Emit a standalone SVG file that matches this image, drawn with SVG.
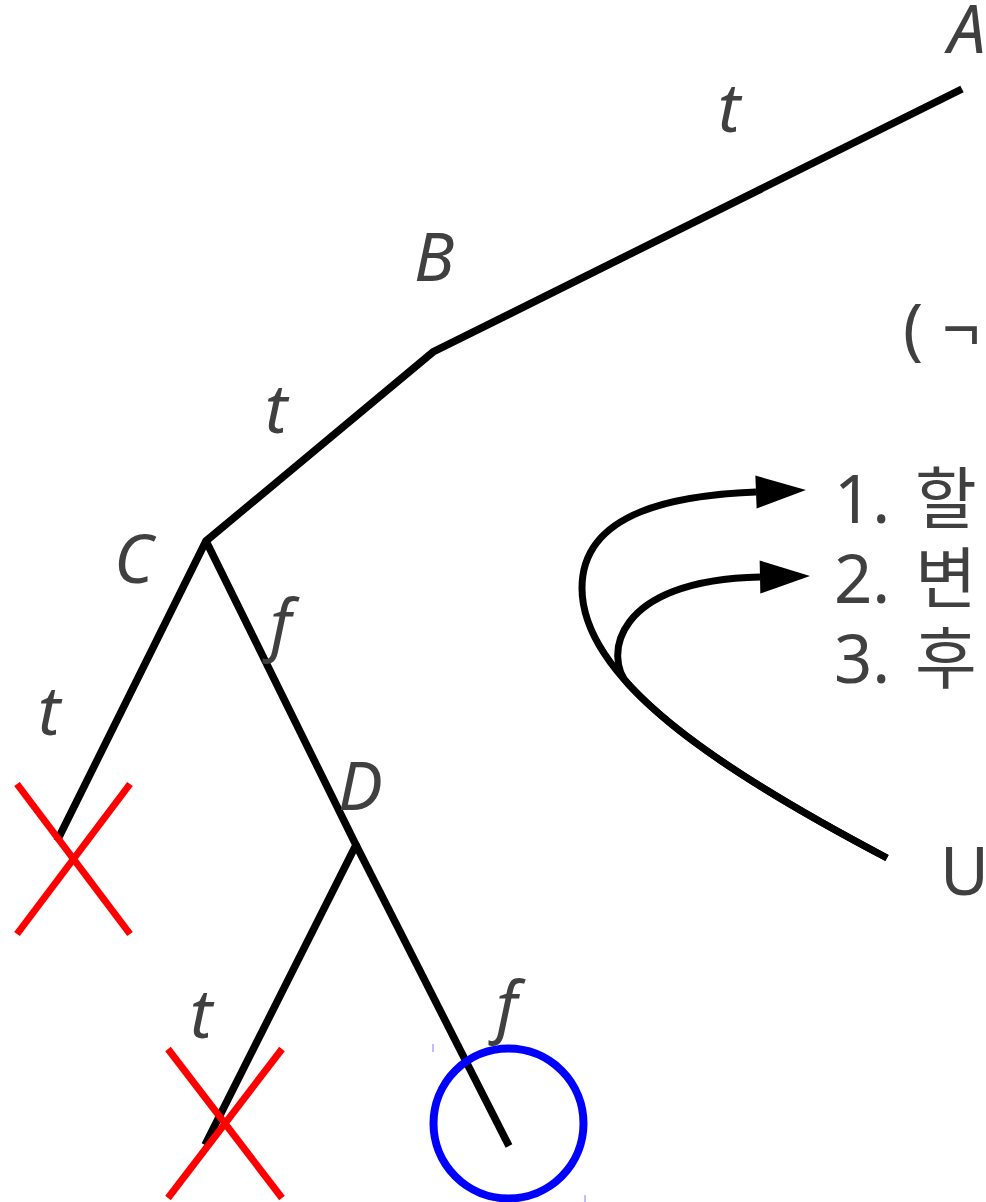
<svg xmlns="http://www.w3.org/2000/svg" width="986" height="1202" viewBox="0 0 986 1202">
<style>
.edge{fill:none;stroke:#000;stroke-width:7.5;stroke-linecap:butt;stroke-linejoin:miter}
.curve{fill:none;stroke:#000;stroke-width:7}
.lbl{font-family:"Noto Sans","Open Sans","Noto Sans CJK KR",sans-serif;font-style:italic;font-size:67px;fill:#404040}
.txt{font-family:"Noto Sans","Open Sans","Noto Sans CJK KR",sans-serif;font-size:67px;fill:#404040}
.cross{stroke:#ff0000;stroke-width:7;fill:none}
.mark{fill:none;stroke:#0000ff;stroke-width:8}
</style>
<defs>
<marker id="arr" markerUnits="userSpaceOnUse" markerWidth="52" markerHeight="34" refX="0" refY="16.5" orient="auto" overflow="visible">
<path d="M0,0 L50,16.5 L0,33 z" fill="#000"/>
</marker>
</defs>
<rect width="986" height="1202" fill="#fff"/>
<g id="connectors">
<polyline class="edge" points="962,89 433,352 206,541 57,841"/>
<polyline class="edge" points="206,541 356,845 205,1145"/>
<line class="edge" x1="356" y1="845" x2="509" y2="1146"/>
<path class="curve" d="M887,858 C720,770 582,680 582,588 C582,510 680,495 756,492" marker-end="url(#arr)"/>
<path class="curve" d="M887,858 C778.45,800.8 682.35,742.8 628.1,684 C604,658 612,580 760,577" marker-end="url(#arr)"/>
</g>
<g id="node-A"><text class="lbl" x="948" y="53">A</text></g>
<g id="label-t1"><text class="lbl" x="718" y="132">t</text></g>
<g id="node-B"><text class="lbl" x="414" y="281">B</text></g>
<g id="label-t2"><text class="lbl" x="265" y="433">t</text></g>
<g id="node-C"><text class="lbl" x="114" y="583">C</text></g>
<g id="label-f1"><text class="lbl" x="270" y="648">f</text></g>
<g id="label-t3"><text class="lbl" x="38" y="735">t</text></g>
<g id="node-D"><text class="lbl" x="338" y="810">D</text></g>
<g id="label-t4"><text class="lbl" x="190" y="1038">t</text></g>
<g id="label-f2"><text class="lbl" x="496" y="1030">f</text></g>
<g id="cross-1">
<line class="cross" x1="17" y1="784" x2="130" y2="934"/>
<line class="cross" x1="130" y1="784" x2="17" y2="934"/>
</g>
<g id="cross-2">
<line class="cross" x1="168" y1="1049" x2="282" y2="1198"/>
<line class="cross" x1="282" y1="1049" x2="168" y2="1198"/>
</g>
<g id="goal">
<circle class="mark" cx="508.5" cy="1123.5" r="75"/>
<line x1="433" y1="1044" x2="433" y2="1052" stroke="#7f7fff" stroke-width="1"/>
<line x1="585" y1="1195" x2="585" y2="1202" stroke="#7f7fff" stroke-width="1"/>
</g>
<g id="note">
<text class="txt" x="903" y="352">(<tspan x="942">¬</tspan></text>
<text class="txt" x="834" y="523">1.<tspan x="915">할</tspan></text>
<text class="txt" x="834" y="603">2.<tspan x="915">변</tspan></text>
<text class="txt" x="834" y="683">3.<tspan x="915">후</tspan></text>
<text class="txt" x="940" y="895">U</text>
</g>
</svg>
